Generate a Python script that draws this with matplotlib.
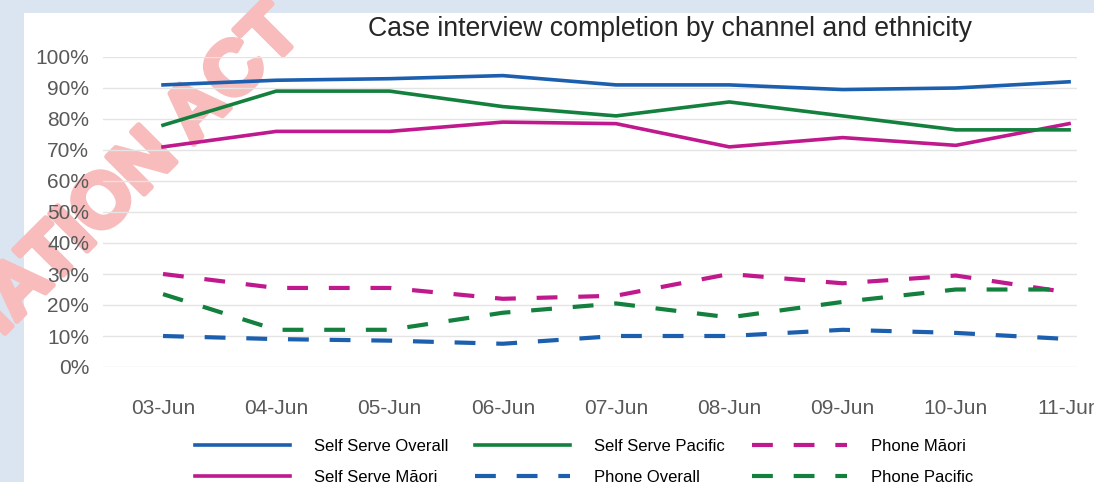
import matplotlib
matplotlib.use("Agg")
import matplotlib.pyplot as plt
import matplotlib.patheffects as pe
from matplotlib.patches import Rectangle
from matplotlib.ticker import PercentFormatter

plt.rcParams['font.family'] = ['Liberation Sans', 'DejaVu Sans']

# data (percent)
dates = ["03-Jun", "04-Jun", "05-Jun", "06-Jun", "07-Jun", "08-Jun", "09-Jun", "10-Jun", "11-Jun"]
self_serve_overall = [91, 92.5, 93, 94, 91, 91, 89.5, 90, 92]
self_serve_maori = [71, 76, 76, 79, 78.5, 71, 74, 71.5, 78.5]
self_serve_pacific = [78, 89, 89, 84, 81, 85.5, 81, 76.5, 76.5]
phone_overall = [10, 9, 8.5, 7.5, 10, 10, 12, 11, 9]
phone_maori = [30, 25.5, 25.5, 22, 23, 30, 27, 29.5, 24]
phone_pacific = [23.5, 12, 12, 17.5, 20.5, 16, 21, 25, 25]

blue = '#1b5fae'
green = '#13803d'
magenta = '#c0188d'

W, H = 1094, 482
fig = plt.figure(figsize=(W / 100, H / 100), dpi=100)
fig.patch.set_facecolor('#dbe5f1')

# white card behind the chart
fig.add_artist(Rectangle((24 / W, 0), 1 - 24 / W, 1 - 13 / H, transform=fig.transFigure,
                         facecolor='white', edgecolor='none', zorder=-2))

# redaction watermark (solid pale red, thickened with a stroke)
wm_color = '#f8bcbc'
fig.text(304 / W, 1 - 34 / H, "RELEASED UNDER THE OFFICIAL INFORMATION ACT",
         fontsize=55, fontweight='bold', color=wm_color,
         rotation=45, rotation_mode='anchor', ha='right', va='baseline', zorder=-1,
         path_effects=[pe.withStroke(linewidth=4, foreground=wm_color)])

ax = fig.add_axes([103 / W, 1 - 367 / H, (1077 - 103) / W, (367 - 57) / H])
ax.set_facecolor('none')

x = list(range(len(dates)))
ax.plot(x, self_serve_overall, color=blue, lw=2.6, label='Self Serve Overall')
ax.plot(x, self_serve_maori, color=magenta, lw=2.6, label='Self Serve Māori')
ax.plot(x, self_serve_pacific, color=green, lw=2.6, label='Self Serve Pacific')
ax.plot(x, phone_overall, color=blue, lw=3, dashes=(5, 5), label='Phone Overall')
ax.plot(x, phone_maori, color=magenta, lw=3, dashes=(5, 5), label='Phone Māori')
ax.plot(x, phone_pacific, color=green, lw=3, dashes=(5, 5), label='Phone Pacific')

ax.set_xlim(-0.53, 8.07)
ax.set_ylim(0, 100)
ax.set_yticks(range(0, 101, 10))
ax.yaxis.set_major_formatter(PercentFormatter(decimals=0))
ax.set_xticks(x)
ax.set_xticklabels(dates)
ax.grid(axis='y', color='#e4e4e4', lw=1)
ax.set_axisbelow(True)
for s in ax.spines.values():
    s.set_visible(False)
ax.tick_params(axis='both', length=0, labelsize=15, labelcolor='#595959')
ax.tick_params(axis='x', pad=23)
ax.tick_params(axis='y', pad=10)

fig.text(670 / W, 1 - 29 / H, "Case interview completion by channel and ethnicity",
         fontsize=19.2, color='#262626', ha='center', va='center')

handles, labels = ax.get_legend_handles_labels()
fig.legend(handles, labels,
           loc='upper left', bbox_to_anchor=(195 / W, 1 - 439 / H), ncol=3,
           frameon=False, fontsize=12, handlelength=5.7, handletextpad=1.45,
           columnspacing=1.6, labelspacing=0.95, borderpad=0, borderaxespad=0)

fig.savefig('out.png', dpi=100, facecolor=fig.get_facecolor())
